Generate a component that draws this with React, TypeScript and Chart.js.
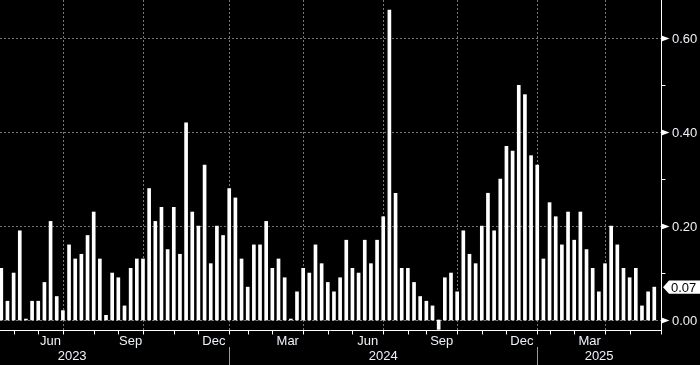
import React, { useEffect, useRef } from "react";
import { Chart, registerables } from "chart.js";

Chart.register(...registerables);

// Weekly observation dates (categories)
const weeks: string[] = [
  "2023-04-23", "2023-04-30",
  "2023-05-07", "2023-05-14", "2023-05-21", "2023-05-28",
  "2023-06-04", "2023-06-11", "2023-06-18", "2023-06-25",
  "2023-07-02", "2023-07-09", "2023-07-16", "2023-07-23", "2023-07-30",
  "2023-08-06", "2023-08-13", "2023-08-20", "2023-08-27",
  "2023-09-03", "2023-09-10", "2023-09-17", "2023-09-24",
  "2023-10-01", "2023-10-08", "2023-10-15", "2023-10-22", "2023-10-29",
  "2023-11-05", "2023-11-12", "2023-11-19", "2023-11-26",
  "2023-12-03", "2023-12-10", "2023-12-17", "2023-12-24", "2023-12-31",
  "2024-01-14", "2024-01-21", "2024-01-28",
  "2024-02-04", "2024-02-11", "2024-02-18", "2024-02-25",
  "2024-03-03", "2024-03-10", "2024-03-17", "2024-03-24", "2024-03-31",
  "2024-04-07", "2024-04-14", "2024-04-21", "2024-04-28",
  "2024-05-05", "2024-05-12", "2024-05-19", "2024-05-26",
  "2024-06-02", "2024-06-09", "2024-06-16", "2024-06-23", "2024-06-30",
  "2024-07-07", "2024-07-14", "2024-07-21", "2024-07-28",
  "2024-08-11", "2024-08-18", "2024-08-25",
  "2024-09-01", "2024-09-08", "2024-09-15", "2024-09-22", "2024-09-29",
  "2024-10-06", "2024-10-13", "2024-10-20", "2024-10-27",
  "2024-11-03", "2024-11-10", "2024-11-17", "2024-11-24",
  "2024-12-01", "2024-12-08", "2024-12-15", "2024-12-22", "2024-12-29",
  "2025-01-19", "2025-01-26",
  "2025-02-02", "2025-02-09", "2025-02-16", "2025-02-23",
  "2025-03-02", "2025-03-09", "2025-03-16", "2025-03-23", "2025-03-30",
  "2025-04-06", "2025-04-13", "2025-04-20", "2025-04-27",
  "2025-05-04", "2025-05-11", "2025-05-18", "2025-05-25", "2025-05-30",
];

// Weekly values
const values: number[] = [
  0.11, 0.04, 0.10, 0.19, 0.002, 0.04, 0.04, 0.08, 0.21, 0.05,
  0.02, 0.16, 0.13, 0.14, 0.18, 0.23, 0.13, 0.01, 0.10, 0.09,
  0.03, 0.11, 0.13, 0.13, 0.28, 0.21, 0.24, 0.15, 0.24, 0.14,
  0.42, 0.23, 0.20, 0.33, 0.12, 0.20, 0.18, 0.28, 0.26, 0.13,
  0.07, 0.16, 0.16, 0.21, 0.11, 0.13, 0.09, 0.002, 0.06, 0.11,
  0.10, 0.16, 0.12, 0.08, 0.06, 0.09, 0.17, 0.11, 0.10, 0.17,
  0.12, 0.17, 0.22, 0.66, 0.27, 0.11, 0.11, 0.08, 0.05, 0.04,
  0.03, -0.02, 0.09, 0.10, 0.06, 0.19, 0.14, 0.12, 0.20, 0.27,
  0.19, 0.30, 0.37, 0.36, 0.50, 0.48, 0.35, 0.33, 0.13, 0.25,
  0.22, 0.16, 0.23, 0.17, 0.23, 0.15, 0.11, 0.06, 0.12, 0.20,
  0.16, 0.11, 0.09, 0.11, 0.03, 0.06, 0.07,
];

const yMajorTicks: number[] = [0, 0.2, 0.4, 0.6];
const yMinorTicks: number[] = [0.1, 0.3, 0.5];
const monthNames: string[] = ["Jan", "Feb", "Mar", "Apr", "May", "Jun", "Jul", "Aug", "Sep", "Oct", "Nov", "Dec"];
const labelledMonths: number[] = [3, 6, 9, 12];
const gridMonths: number[] = [1, 4, 7, 10];
const firstYearLabelAt = 11.5; // first (clipped) year label anchor, in week units

const X_MIN = -0.21;
const X_MAX = 107.09;
const Y_MIN = -0.0213;
const Y_MAX = 0.6816;

const GRID = "#767676";
const TEXT = "#eef2f8";
const FONT = "13px 'Liberation Sans', Arial, sans-serif";

type MonthStart = { index: number; month: number; year: number };

function monthStarts(): MonthStart[] {
  const out: MonthStart[] = [];
  for (let i = 1; i < weeks.length; i++) {
    if (weeks[i].slice(0, 7) !== weeks[i - 1].slice(0, 7)) {
      out.push({ index: i, month: parseInt(weeks[i].slice(5, 7), 10), year: parseInt(weeks[i].slice(0, 4), 10) });
    }
  }
  return out;
}

const bbgPlugin = {
  id: "bbg",
  beforeDraw(chart: any) {
    const ctx = chart.ctx;
    ctx.save();
    ctx.fillStyle = "#000";
    ctx.fillRect(0, 0, chart.width, chart.height);
    ctx.restore();
  },
  beforeDatasetsDraw(chart: any) {
    const { ctx, chartArea: ca, scales } = chart;
    const xs = scales.x;
    const ys = scales.y;
    ctx.save();
    ctx.strokeStyle = GRID;
    ctx.lineWidth = 1;
    ctx.setLineDash([2, 2]);
    for (const v of yMajorTicks) {
      const py = Math.round(ys.getPixelForValue(v)) + 0.5;
      ctx.beginPath();
      ctx.moveTo(ca.left, py);
      ctx.lineTo(ca.right, py);
      ctx.stroke();
    }
    for (const m of monthStarts()) {
      if (!gridMonths.includes(m.month)) continue;
      const px = Math.round(xs.getPixelForValue(m.index)) + 0.5;
      ctx.beginPath();
      ctx.moveTo(px, ca.top);
      ctx.lineTo(px, ca.bottom);
      ctx.stroke();
    }
    ctx.restore();
  },
  afterDatasetsDraw(chart: any) {
    const { ctx, chartArea: ca, scales } = chart;
    const xs = scales.x;
    const ys = scales.y;
    const axX = Math.round(ca.right) + 0.5;
    const axY = Math.round(ca.bottom) + 0.5;
    ctx.save();
    ctx.strokeStyle = "#ffffff";
    ctx.lineWidth = 1;
    // axes
    ctx.beginPath();
    ctx.moveTo(ca.left, axY);
    ctx.lineTo(axX, axY);
    ctx.moveTo(axX, ca.top);
    ctx.lineTo(axX, axY + 4);
    ctx.stroke();

    // y minor ticks
    for (const v of yMinorTicks) {
      const py = Math.round(ys.getPixelForValue(v)) + 0.5;
      ctx.beginPath();
      ctx.moveTo(axX, py);
      ctx.lineTo(axX + 4, py);
      ctx.stroke();
    }
    // y major labels
    ctx.font = FONT;
    ctx.textBaseline = "middle";
    ctx.textAlign = "left";
    for (const v of yMajorTicks) {
      const py = Math.round(ys.getPixelForValue(v)) + 0.5;
      ctx.fillStyle = "#ffffff";
      ctx.beginPath();
      ctx.moveTo(axX, py - 3);
      ctx.lineTo(axX + 8, py);
      ctx.lineTo(axX, py + 3);
      ctx.closePath();
      ctx.fill();
      ctx.fillStyle = TEXT;
      ctx.fillText(v.toFixed(2), ca.right + 11, py + 1);
    }
    // last value tag
    const last = values[values.length - 1];
    const ly = ys.getPixelForValue(last);
    ctx.fillStyle = "#ffffff";
    ctx.beginPath();
    ctx.moveTo(ca.right + 2, ly);
    ctx.lineTo(ca.right + 8, ly - 6.7);
    ctx.lineTo(chart.width, ly - 6.7);
    ctx.lineTo(chart.width, ly + 6.7);
    ctx.lineTo(ca.right + 8, ly + 6.7);
    ctx.closePath();
    ctx.fill();
    ctx.fillStyle = "#000000";
    ctx.fillText(last.toFixed(2), ca.right + 10, ly + 1);

    // x month ticks and labels
    const ms = monthStarts();
    ctx.textAlign = "center";
    for (let k = 0; k < ms.length; k++) {
      const m = ms[k];
      const px = Math.round(xs.getPixelForValue(m.index)) + 0.5;
      ctx.beginPath();
      ctx.moveTo(px, axY);
      ctx.lineTo(px, axY + 4);
      ctx.stroke();
      if (labelledMonths.includes(m.month)) {
        const next = k + 1 < ms.length ? ms[k + 1].index : X_MAX;
        const cx = xs.getPixelForValue((m.index + next) / 2);
        ctx.fillStyle = TEXT;
        ctx.fillText(monthNames[m.month - 1], cx, axY + 10.5);
      }
    }
    // years
    const yearStarts = ms.filter((m) => m.month === 1);
    const firstYear = parseInt(weeks[0].slice(0, 4), 10);
    ctx.strokeStyle = "#9a9a9a";
    for (const ysStart of yearStarts) {
      const px = Math.round(xs.getPixelForValue(ysStart.index)) + 0.5;
      ctx.beginPath();
      ctx.moveTo(px, 347);
      ctx.lineTo(px, chart.height);
      ctx.stroke();
    }
    ctx.fillStyle = TEXT;
    ctx.fillText(String(firstYear), xs.getPixelForValue(firstYearLabelAt), axY + 26);
    for (let k = 0; k < yearStarts.length; k++) {
      const s = yearStarts[k].index;
      const e = k + 1 < yearStarts.length ? yearStarts[k + 1].index : X_MAX;
      ctx.fillText(String(yearStarts[k].year), xs.getPixelForValue((s + e) / 2), axY + 26);
    }
    ctx.restore();
  },
};

export default function App() {
  const ref = useRef<HTMLCanvasElement>(null);
  useEffect(() => {
    const canvas = ref.current as HTMLCanvasElement;
    const chart = new Chart(canvas, {
      type: "bar",
      data: {
        datasets: [
          {
            data: values.map((v, i) => ({ x: i, y: v })) as any,
            backgroundColor: "#ffffff",
            borderWidth: 0,
            barThickness: 3,
          },
        ],
      },
      options: {
        responsive: false,
        animation: false,
        devicePixelRatio: 1,
        layout: { padding: { left: 0, top: 0, right: 39, bottom: 35 } },
        plugins: { legend: { display: false }, tooltip: { enabled: false } },
        scales: {
          x: { type: "linear", min: X_MIN, max: X_MAX, offset: false, display: false },
          y: { type: "linear", min: Y_MIN, max: Y_MAX, display: false },
        },
      } as any,
      plugins: [bbgPlugin],
    });
    return () => chart.destroy();
  }, []);
  return (
    <div style={{ position: "absolute", left: 0, top: 0, width: 700, height: 365, background: "#000" }}>
      <canvas ref={ref} width={700} height={365} style={{ display: "block" }} />
    </div>
  );
}
